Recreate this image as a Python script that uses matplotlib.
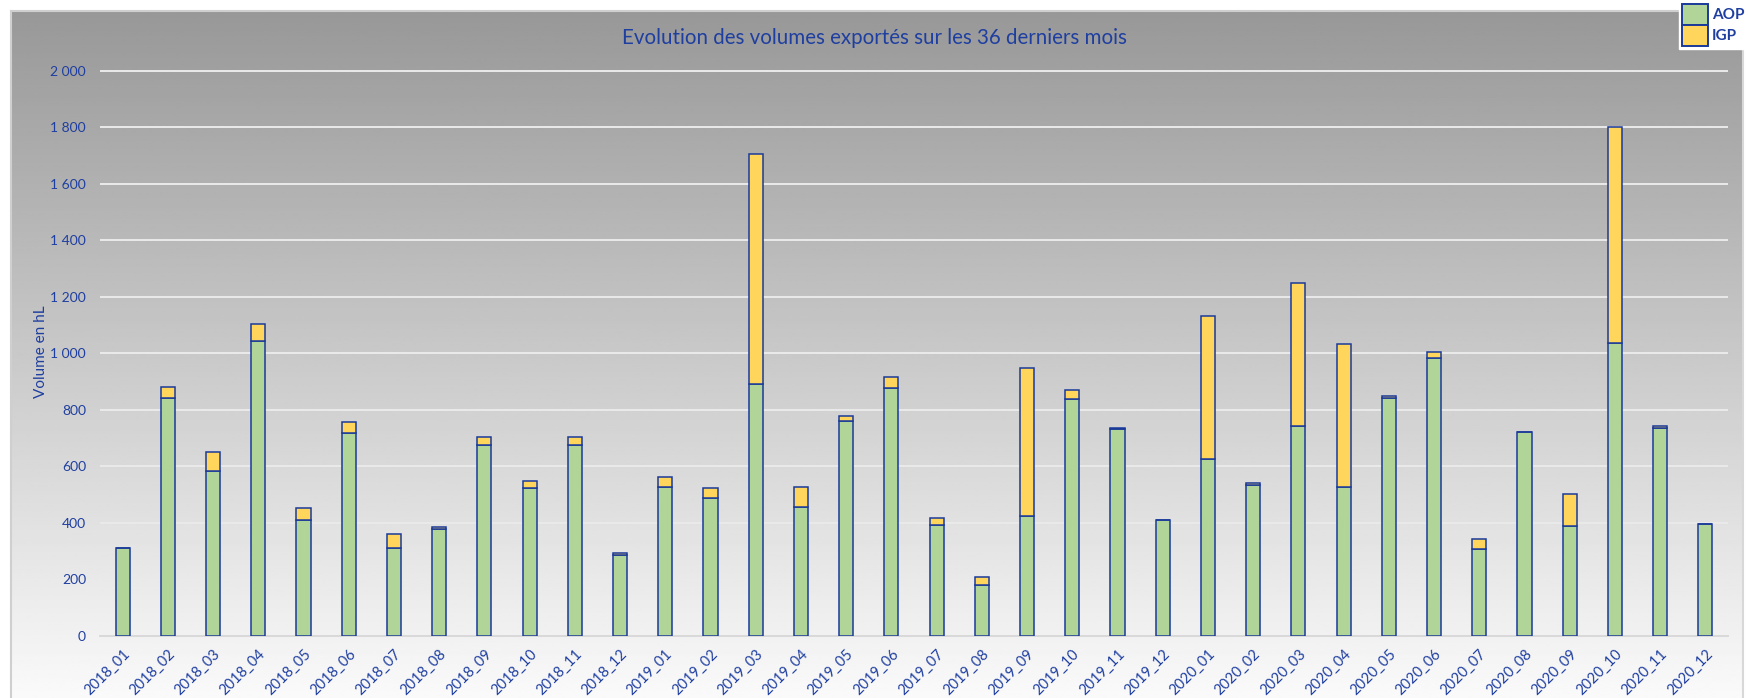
import numpy as np
import matplotlib
matplotlib.use("Agg")
import matplotlib.pyplot as plt
from matplotlib.ticker import FuncFormatter, MultipleLocator
from matplotlib.patches import Rectangle

plt.rcParams['font.family'] = ['Lato', 'DejaVu Sans']

# data (hL)
mois = ["2018_01", "2018_02", "2018_03", "2018_04", "2018_05", "2018_06",
        "2018_07", "2018_08", "2018_09", "2018_10", "2018_11", "2018_12",
        "2019_01", "2019_02", "2019_03", "2019_04", "2019_05", "2019_06",
        "2019_07", "2019_08", "2019_09", "2019_10", "2019_11", "2019_12",
        "2020_01", "2020_02", "2020_03", "2020_04", "2020_05", "2020_06",
        "2020_07", "2020_08", "2020_09", "2020_10", "2020_11", "2020_12"]
aop = [309, 840, 583, 1043, 411, 719,
       312, 378, 676, 523, 676, 286,
       526, 486, 890, 457, 760, 878,
       393, 178, 424, 837, 730, 408,
       624, 534, 743, 527, 842, 984,
       306, 720, 388, 1035, 734, 396]
igp = [0, 39, 68, 62, 40, 39,
       48, 7, 29, 25, 28, 8,
       36, 37, 816, 69, 18, 38,
       25, 31, 525, 33, 4, 2,
       508, 7, 507, 506, 5, 19,
       37, 2, 112, 765, 7, 1]

blue = '#1F3FA0'
edge = '#1A3A9A'
green = '#B1D598'
yellow = '#FFD55B'

W, H = 1748, 698
fig = plt.figure(figsize=(W / 100, H / 100), dpi=100)

# background gradient
bg = fig.add_axes([0, 0, 1, 1], zorder=-5)
bg.set_xlim(0, W)
bg.set_ylim(H, 0)
bg.axis('off')
grad = np.linspace(152, 250, 256)[:, None] / 255.0
bg.imshow(np.repeat(grad, 2, axis=1), cmap='gray', vmin=0, vmax=1,
          extent=[11, 1743, H, 11], aspect='auto', interpolation='bilinear')
bg.plot([11, 1743], [11, 11], color='#CFCFCF', lw=1.5)
bg.plot([11, 11], [11, H], color='#CFCFCF', lw=1.5)
bg.plot([1743, 1743], [11, H], color='#D8D8D8', lw=1.5)

# main axes: 0 at y=635.7px, 200 units = 56.5px
ytop = 2010
top_px = 635.7 - ytop * 56.5 / 200
ax = fig.add_axes([100 / W, (H - 635.7) / H, 1628 / W, (635.7 - top_px) / H])
ax.set_facecolor('none')

x = np.arange(len(mois))
ax.bar(x, aop, width=0.31, color=green, edgecolor=edge, linewidth=1.1, zorder=3)
ax.bar(x, igp, width=0.31, bottom=aop, color=yellow, edgecolor=edge, linewidth=1.1, zorder=3)

ax.set_xlim(-0.5, len(mois) - 0.5)
ax.set_ylim(0, ytop)
ax.yaxis.set_major_locator(MultipleLocator(200))
ax.yaxis.set_major_formatter(FuncFormatter(lambda v, p: f"{v:,.0f}".replace(",", " ")))
ax.grid(axis='y', color='#EAEAEA', lw=1.4, zorder=0)
for s in ['top', 'right', 'left']:
    ax.spines[s].set_visible(False)
ax.spines['bottom'].set_color('#D9D9D9')
ax.spines['bottom'].set_linewidth(1.4)
ax.tick_params(axis='both', length=0, colors=blue, labelsize=10)
ax.tick_params(axis='y', pad=10)
ax.set_xticks(x)
ax.set_xticklabels(mois, rotation=45, ha='right', rotation_mode='anchor', fontsize=10.5)
ax.tick_params(axis='x', pad=8)
ax.set_ylabel('Volume en hL', color=blue, fontsize=11)
ax.yaxis.set_label_coords(-0.032, 0.5)

fig.text(0.5, 1 - 38 / H, 'Evolution des volumes exportés sur les 36 derniers mois',
         ha='center', va='center', color=blue, fontsize=14.8)

# legend
leg_handles = [Rectangle((0, 0), 1, 1, facecolor=green, edgecolor=edge, lw=1.4),
               Rectangle((0, 0), 1, 1, facecolor=yellow, edgecolor=edge, lw=1.4)]
leg = fig.legend(leg_handles, ['AOP', 'IGP'], loc='upper right', bbox_to_anchor=(1.0, 1.0),
                 frameon=True, fancybox=False, facecolor='white', edgecolor='white',
                 framealpha=1, fontsize=11, labelspacing=0, handleheight=1.75,
                 handlelength=1.7, handletextpad=0.25, borderpad=0.2, borderaxespad=0.05)
for t in leg.get_texts():
    t.set_color(blue)
    t.set_fontweight('bold')

fig.savefig('out.png', dpi=100)
